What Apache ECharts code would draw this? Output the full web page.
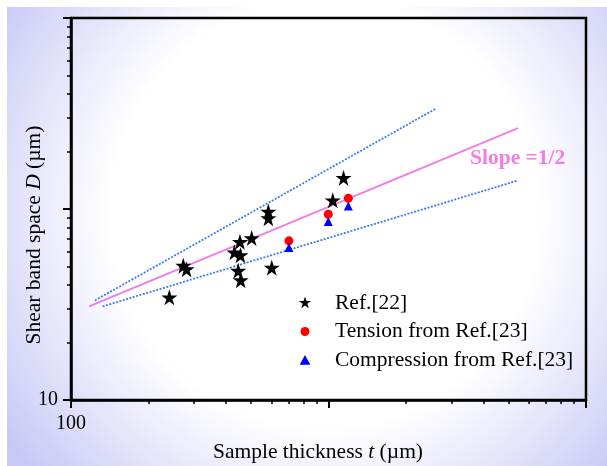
<!DOCTYPE html>
<html><head><meta charset="utf-8">
<script src="https://cdn.jsdelivr.net/npm/echarts@6/dist/echarts.min.js"></script>
<style>html,body{margin:0;padding:0;background:#fff}#c{width:607px;height:466px}</style>
</head><body><div id="c"></div>
<script>
// ---- data (log-log) ----
const refStarsT = [241, 273, 281, 453, 431, 455, 503, 446, 456, 584, 584, 602, 1039, 1144];
const refStarsD = [34.5, 50.5, 48.4, 67.3, 59.3, 57.3, 70.4, 47.5, 42.4, 97, 89.5, 49.3, 111, 145.5];
const tensionT = [702, 998, 1194];
const tensionD = [68.1, 93.9, 113.7];
const compT = [702, 998, 1194];
const compD = [62.9, 85.9, 103.7];
const slopeLineT = [117.5, 5445];
const slopeLineD = [30.9, 265];
const upperLineT = [123.8, 2603];
const upperLineD = [33.2, 334.6];
const lowerLineT = [132.7, 5445];
const lowerLineD = [30.9, 141.1];
const xLabelValues = [100];
const yLabelValues = [10];
const xMinorTicks = [200,300,400,500,600,700,800,900,2000,3000,4000,5000,6000,7000,8000,9000];
const yMinorTicks = [20,30,40,50,60,70,80,90,200,300,400,500,600,700,800,900];
const seriesNames = ['Ref.[22]', 'Tension from Ref.[23]', 'Compression from Ref.[23]'];

const zip = (a, b) => a.map((v, i) => [v, b[i]]);
const FONT = '"Liberation Serif", "Times New Roman", serif';
const starPath = 'path://M50 0 L61.23 34.55 L97.55 34.55 L68.17 55.9 L79.39 90.45 L50 69.1 L20.61 90.45 L31.83 55.9 L2.45 34.55 L38.77 34.55 Z';
const legStar = 'path://M0 0 M100 100 M50 4 L60.3 35.7 L93.6 35.7 L66.6 55.3 L76.9 87 L50 67.4 L23.1 87 L33.4 55.3 L6.4 35.7 L39.7 35.7 Z';
const legCircle = 'path://M0 0 M100 100 M18 50 A32 32 0 1 1 82 50 A32 32 0 1 1 18 50 Z';
const legTri = 'path://M0 0 M100 100 M50 14 L88 84 L12 84 Z';

const chart = echarts.init(document.getElementById('c'), null, {renderer: 'canvas'});
const L = Math.log10;
const option = {
  animation: false,
  grid: {left: 71, top: 18, width: 515, height: 382, show: true, borderColor: '#000', borderWidth: 2.5, backgroundColor: 'transparent'},
  graphic: [
    {type: 'rect', z: -10, silent: true, shape: {x: 7, y: 7, width: 600, height: 459},
      style: {fill: new echarts.graphic.RadialGradient(0.53, 0.45, 0.85, [
        {offset: 0, color: '#ffffff'}, {offset: 0.55, color: '#ffffff'}, {offset: 1, color: '#c8c8f6'}])}},
    {type: 'text', z: 100, x: 318, y: 452, silent: true,
      style: {text: 'Sample thickness {i|t} (µm)', font: '21.5px ' + FONT, fill: '#000', align: 'center', verticalAlign: 'middle',
        rich: {i: {font: 'italic 21.5px ' + FONT, fill: '#000'}}}},
    {type: 'text', z: 100, x: 34, y: 235, rotation: Math.PI / 2, silent: true,
      style: {text: 'Shear band space {i|D} (µm)', font: '21.5px ' + FONT, fill: '#000', align: 'center', verticalAlign: 'middle',
        rich: {i: {font: 'italic 21.5px ' + FONT, fill: '#000'}}}},
    {type: 'text', z: 100, x: 470, y: 158, silent: true,
      style: {text: 'Slope =1/2', font: 'bold 21.5px ' + FONT, fill: '#f07ce8', verticalAlign: 'middle'}}
  ],
  legend: {
    orient: 'vertical', left: 298, top: 292, padding: 0, itemWidth: 50, itemHeight: 14, itemGap: 6.5,
    symbolKeepAspect: true,
    textStyle: {fontFamily: FONT, fontSize: 21.5, color: '#000'},
    data: [
      {name: seriesNames[0], icon: legStar},
      {name: seriesNames[1], icon: legCircle},
      {name: seriesNames[2], icon: legTri}
    ]
  },
  xAxis: [
    {type: 'log', logBase: 10, min: 100, max: 10000, position: 'bottom',
      axisLine: {show: true, lineStyle: {color: '#000', width: 2.5}},
      axisTick: {show: true, length: 8, lineStyle: {color: '#000', width: 2}},
      axisLabel: {margin: 14, fontFamily: FONT, fontSize: 20, color: '#000',
        formatter: v => xLabelValues.some(x => Math.abs(x - v) < 1e-6) ? String(v) : ''},
      splitLine: {show: false}},
    {type: 'value', min: L(100), max: L(10000), position: 'bottom', gridIndex: 0,
      axisLine: {show: false},
      axisTick: {show: true, customValues: xMinorTicks.map(L), length: 4, lineStyle: {color: '#000', width: 1.5}},
      axisLabel: {show: false}, splitLine: {show: false}}
  ],
  yAxis: [
    {type: 'log', logBase: 10, min: 10, max: 1000, position: 'left',
      axisLine: {show: true, lineStyle: {color: '#000', width: 2.5}},
      axisTick: {show: true, length: 8, lineStyle: {color: '#000', width: 2}},
      axisLabel: {margin: 13, fontFamily: FONT, fontSize: 20, color: '#000',
        formatter: v => yLabelValues.some(y => Math.abs(y - v) < 1e-6) ? String(v) : ''},
      splitLine: {show: false}},
    {type: 'value', min: L(10), max: L(1000), position: 'left', gridIndex: 0,
      axisLine: {show: false},
      axisTick: {show: true, customValues: yMinorTicks.map(L), length: 4, lineStyle: {color: '#000', width: 1.5}},
      axisLabel: {show: false}, splitLine: {show: false}}
  ],
  series: [
    {type: 'line', silent: true, data: zip(upperLineT, upperLineD), showSymbol: false, symbol: 'none',
      lineStyle: {color: '#3a7cf0', width: 1.8, type: [2, 1.5]}, z: 1},
    {type: 'line', silent: true, data: zip(lowerLineT, lowerLineD), showSymbol: false, symbol: 'none',
      lineStyle: {color: '#3a7cf0', width: 1.8, type: [2, 1.5]}, z: 1},
    {type: 'line', silent: true, data: zip(slopeLineT, slopeLineD), showSymbol: false, symbol: 'none',
      lineStyle: {color: '#f07ce8', width: 2}, z: 1},
    {name: seriesNames[0], type: 'scatter', data: zip(refStarsT, refStarsD), symbol: starPath, symbolSize: 16,
      itemStyle: {color: '#000', opacity: 1}, z: 3},
    {name: seriesNames[1], type: 'scatter', data: zip(tensionT, tensionD), symbol: 'circle', symbolSize: 9,
      itemStyle: {color: '#ff0000', opacity: 1}, z: 4},
    {name: seriesNames[2], type: 'scatter', data: zip(compT, compD), symbol: 'triangle', symbolSize: 9,
      itemStyle: {color: '#0000ff', opacity: 1}, z: 5}
  ]
};
chart.setOption(option);
</script>
</body></html>
